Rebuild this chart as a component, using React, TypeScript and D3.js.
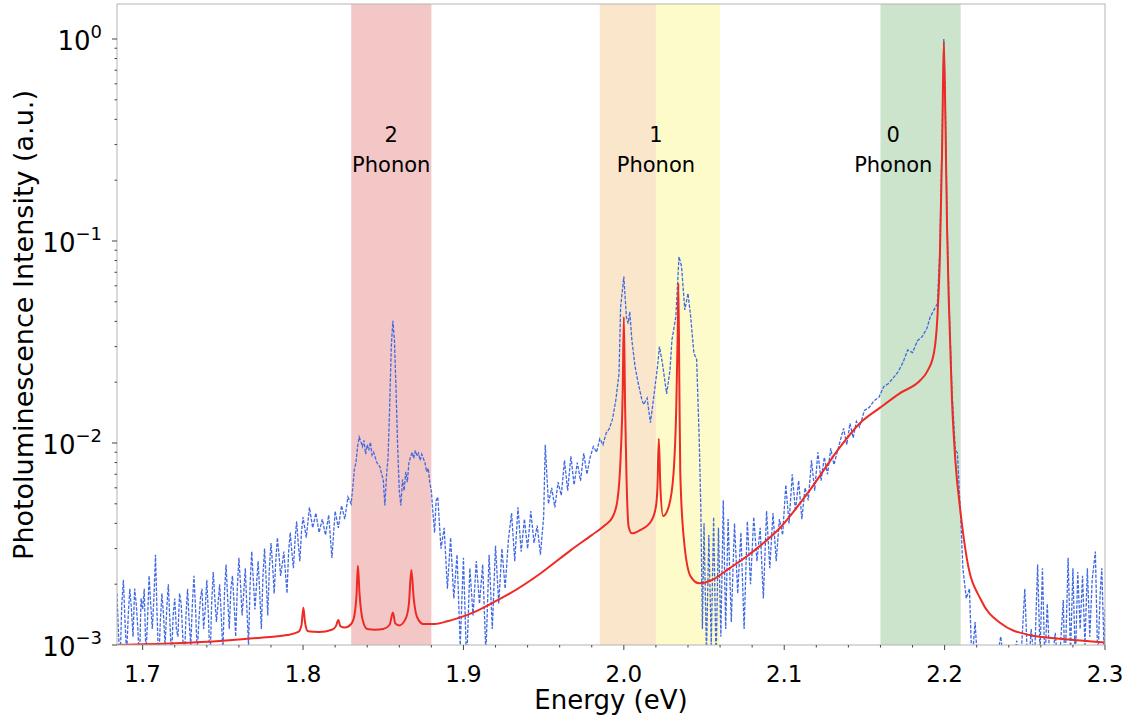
import React from "react";
import * as d3 from "d3";

// fitted model (red line): [energy eV, intensity]
const fitCurve: [number, number][] = [
  [1.684, 1.0e-3], [1.72, 1.02e-3], [1.75, 1.05e-3], [1.775, 1.09e-3], [1.79, 1.12e-3],
  [1.797, 1.16e-3], [1.799, 1.25e-3], [1.8002, 1.53e-3], [1.8012, 1.3e-3], [1.803, 1.17e-3],
  [1.81, 1.16e-3], [1.818, 1.19e-3], [1.8205, 1.24e-3], [1.822, 1.33e-3], [1.8232, 1.24e-3],
  [1.826, 1.22e-3], [1.83, 1.27e-3], [1.832, 1.4e-3], [1.8333, 1.75e-3], [1.8342, 2.47e-3],
  [1.8352, 1.8e-3], [1.837, 1.35e-3], [1.84, 1.2e-3], [1.845, 1.19e-3], [1.85, 1.2e-3],
  [1.854, 1.26e-3], [1.856, 1.45e-3], [1.8575, 1.28e-3], [1.86, 1.25e-3], [1.864, 1.35e-3],
  [1.866, 1.6e-3], [1.8675, 2.35e-3], [1.869, 1.7e-3], [1.871, 1.38e-3], [1.875, 1.27e-3],
  [1.882, 1.27e-3], [1.89, 1.31e-3], [1.898, 1.37e-3], [1.907, 1.46e-3], [1.917, 1.6e-3],
  [1.929, 1.8e-3], [1.948, 2.26e-3], [1.967, 2.95e-3], [1.98, 3.5e-3], [1.988, 3.9e-3],
  [1.993, 4.3e-3], [1.996, 5.2e-3], [1.998, 8.5e-3], [1.9993, 0.018], [2.0, 0.042],
  [2.0008, 0.015], [2.0016, 7.1e-3], [2.003, 3.85e-3], [2.005, 3.57e-3], [2.01, 3.7e-3],
  [2.017, 4.1e-3], [2.02, 4.84e-3], [2.021, 6.2e-3], [2.0218, 0.0105], [2.0228, 6e-3],
  [2.0245, 4.35e-3], [2.028, 4.84e-3], [2.031, 7.1e-3], [2.0327, 0.0151], [2.0336, 0.035],
  [2.034, 0.0617], [2.0346, 0.02], [2.0352, 7.1e-3], [2.0375, 3.3e-3], [2.0417, 2.18e-3],
  [2.047, 2.02e-3], [2.054, 2.08e-3], [2.066, 2.4e-3], [2.079, 2.84e-3], [2.098, 3.85e-3],
  [2.116, 5.85e-3], [2.135, 9.6e-3], [2.147, 0.0125], [2.16, 0.015], [2.172, 0.0176],
  [2.185, 0.0205], [2.189, 0.0225], [2.1933, 0.0278], [2.1954, 0.0406], [2.197, 0.08],
  [2.1985, 0.3], [2.1995, 0.97], [2.2005, 0.4], [2.2015, 0.12], [2.2026, 0.051],
  [2.2046, 0.0163], [2.2067, 8.2e-3], [2.21, 4.49e-3], [2.214, 2.64e-3], [2.2227, 1.67e-3],
  [2.235, 1.28e-3], [2.253, 1.12e-3], [2.274, 1.07e-3], [2.3, 1.03e-3],
];

// measured PL spectrum (blue dashed): [energy eV, intensity]
const measured: [number, number][] = [
  [1.684, 1.8e-3], [1.685, 1.1e-3], [1.686, 8.5e-4], [1.687, 1.6e-3], [1.688, 2.1e-3],
  [1.689, 1.3e-3], [1.69, 9e-4], [1.691, 1.4e-3], [1.692, 1.9e-3], [1.693, 1.5e-3],
  [1.694, 1.1e-3], [1.695, 1.9e-3], [1.696, 1.6e-3], [1.697, 1.2e-3], [1.698, 8e-4],
  [1.699, 1.7e-3], [1.7, 1.5e-3], [1.701, 1.9e-3], [1.702, 9e-4], [1.703, 1.3e-3],
  [1.704, 2.2e-3], [1.705, 1.6e-3], [1.706, 1.2e-3], [1.707, 1.7e-3], [1.708, 2.8e-3],
  [1.709, 1.4e-3], [1.71, 8e-4], [1.711, 1.3e-3], [1.712, 1.8e-3], [1.713, 1.4e-3],
  [1.714, 1.0e-3], [1.715, 1.5e-3], [1.716, 2.0e-3], [1.717, 1.3e-3], [1.718, 8.5e-4],
  [1.719, 1.4e-3], [1.72, 1.7e-3], [1.721, 1.2e-3], [1.722, 1.1e-3], [1.723, 1.8e-3],
  [1.724, 1.6e-3], [1.725, 1.1e-3], [1.726, 8e-4], [1.727, 1.4e-3], [1.728, 1.9e-3],
  [1.729, 1.3e-3], [1.73, 1.0e-3], [1.731, 1.6e-3], [1.732, 2.2e-3], [1.733, 1.5e-3],
  [1.734, 9e-4], [1.735, 1.3e-3], [1.736, 1.7e-3], [1.737, 1.9e-3], [1.738, 1.2e-3],
  [1.739, 1.5e-3], [1.74, 2.1e-3], [1.741, 1.4e-3], [1.742, 8e-4], [1.743, 1.6e-3],
  [1.744, 2.3e-3], [1.745, 1.7e-3], [1.746, 1.3e-3], [1.747, 1.6e-3], [1.748, 2.0e-3],
  [1.749, 1.4e-3], [1.75, 9e-4], [1.751, 1.8e-3], [1.752, 2.5e-3], [1.753, 1.7e-3],
  [1.754, 1.2e-3], [1.755, 1.9e-3], [1.756, 2.2e-3], [1.757, 1.6e-3], [1.758, 1.1e-3],
  [1.759, 1.9e-3], [1.76, 2.7e-3], [1.761, 2.0e-3], [1.762, 1.4e-3], [1.763, 1.8e-3],
  [1.764, 2.4e-3], [1.765, 1.5e-3], [1.766, 1.0e-3], [1.767, 2.0e-3], [1.768, 2.9e-3],
  [1.769, 2.1e-3], [1.77, 1.5e-3], [1.771, 2.0e-3], [1.772, 2.6e-3], [1.773, 1.8e-3],
  [1.774, 1.2e-3], [1.775, 2.2e-3], [1.776, 3.0e-3], [1.777, 2.1e-3], [1.778, 1.4e-3],
  [1.779, 2.4e-3], [1.78, 3.2e-3], [1.781, 2.5e-3], [1.782, 1.8e-3], [1.783, 2.6e-3],
  [1.784, 3.4e-3], [1.785, 2.8e-3], [1.786, 2.2e-3], [1.787, 2.5e-3], [1.788, 2.9e-3],
  [1.789, 2.3e-3], [1.79, 1.8e-3], [1.791, 2.9e-3], [1.792, 3.6e-3], [1.793, 2.9e-3],
  [1.794, 2.4e-3], [1.795, 3.3e-3], [1.796, 4.1e-3], [1.797, 3.2e-3], [1.798, 2.6e-3],
  [1.799, 3.6e-3], [1.8, 4.3e-3], [1.802, 3.4e-3],
  [1.804, 4.8e-3], [1.806, 3.8e-3], [1.808, 4.5e-3], [1.81, 3.6e-3], [1.812, 4.2e-3],
  [1.814, 3.5e-3], [1.816, 4.4e-3], [1.818, 2.7e-3], [1.82, 4.6e-3], [1.822, 3.8e-3],
  [1.824, 4.9e-3], [1.826, 4.2e-3], [1.828, 5.4e-3], [1.83, 5.0e-3],
  [1.831, 6.0e-3], [1.832, 7.4e-3], [1.833, 8.0e-3], [1.834, 9.6e-3], [1.835, 0.0107],
  [1.836, 0.0102], [1.837, 0.0096], [1.838, 0.0103], [1.839, 0.0088], [1.84, 0.0098],
  [1.841, 0.0092], [1.842, 0.0101], [1.843, 0.0087], [1.844, 0.009], [1.846, 0.008],
  [1.848, 0.0076], [1.849, 0.007], [1.85, 0.0066], [1.851, 0.0049], [1.852, 0.0068],
  [1.853, 0.0085], [1.854, 0.015], [1.855, 0.03], [1.856, 0.0403], [1.857, 0.032],
  [1.858, 0.018], [1.859, 0.0095], [1.86, 0.0058], [1.861, 0.0049], [1.862, 0.0066],
  [1.863, 0.0058], [1.864, 0.0072], [1.865, 0.0064], [1.866, 0.008], [1.867, 0.0085],
  [1.868, 0.009], [1.869, 0.0084], [1.87, 0.0092], [1.871, 0.0086], [1.872, 0.0089],
  [1.873, 0.0082], [1.874, 0.0088], [1.876, 0.008], [1.877, 0.0072], [1.878, 0.0075],
  [1.879, 0.0064], [1.88, 0.0058], [1.881, 0.0045], [1.882, 0.0036], [1.883, 0.0052],
  [1.884, 0.0054], [1.886, 0.003], [1.888, 0.0038], [1.89, 0.0019], [1.892, 0.0034],
  [1.894, 0.0017], [1.896, 0.0028], [1.898, 0.001], [1.9, 0.0027], [1.902, 0.0008],
  [1.904, 0.0024], [1.906, 0.0014], [1.908, 0.0026], [1.91, 0.0016], [1.912, 0.0025],
  [1.914, 0.0009], [1.916, 0.0028], [1.918, 0.0012], [1.92, 0.0031], [1.922, 0.0016],
  [1.924, 0.003], [1.926, 0.0019], [1.928, 0.0033], [1.93, 0.0045], [1.932, 0.0026],
  [1.934, 0.0048], [1.936, 0.0029], [1.938, 0.0042], [1.94, 0.003], [1.942, 0.0046],
  [1.944, 0.0032], [1.946, 0.0039], [1.948, 0.0028], [1.95, 0.0043], [1.951, 0.0098],
  [1.953, 0.005], [1.955, 0.006], [1.957, 0.0048], [1.959, 0.0064], [1.961, 0.0055],
  [1.963, 0.0082], [1.965, 0.0058], [1.967, 0.0086], [1.969, 0.0062], [1.971, 0.008],
  [1.973, 0.0065], [1.975, 0.0089], [1.977, 0.007], [1.979, 0.0085], [1.981, 0.0096],
  [1.983, 0.009], [1.985, 0.0105], [1.987, 0.0098], [1.989, 0.0112], [1.991, 0.0118],
  [1.993, 0.0132], [1.995, 0.0163], [1.997, 0.022], [1.998, 0.047], [2.0, 0.0666],
  [2.0016, 0.042], [2.0027, 0.039], [2.0037, 0.0446], [2.005, 0.0324], [2.007, 0.0239],
  [2.009, 0.0197], [2.0113, 0.0163], [2.0124, 0.0155], [2.0145, 0.0167], [2.0166, 0.0126],
  [2.0187, 0.017], [2.021, 0.0239], [2.0222, 0.03], [2.024, 0.025], [2.0267, 0.0175],
  [2.0288, 0.023], [2.03, 0.0324], [2.0324, 0.042], [2.0344, 0.0836], [2.036, 0.0747],
  [2.038, 0.0456], [2.04, 0.055], [2.0417, 0.042], [2.0437, 0.0278], [2.0454, 0.0259],
  [2.047, 0.0104], [2.048, 0.0048], [2.049, 0.0012], [2.05, 0.004], [2.0515, 0.0009],
  [2.053, 0.0035], [2.0545, 0.001], [2.056, 0.0043], [2.0575, 0.0008], [2.059, 0.0038],
  [2.0605, 0.0011], [2.062, 0.0052], [2.0635, 0.0012], [2.065, 0.0042], [2.067, 0.0013],
  [2.069, 0.004], [2.071, 0.0018], [2.073, 0.0036], [2.075, 0.0012], [2.077, 0.0041],
  [2.079, 0.002], [2.081, 0.0043], [2.083, 0.0026], [2.085, 0.0038], [2.087, 0.0017],
  [2.089, 0.0046], [2.091, 0.0024], [2.093, 0.0045], [2.095, 0.0026], [2.097, 0.0042],
  [2.099, 0.0035], [2.101, 0.0062], [2.103, 0.004], [2.105, 0.007], [2.107, 0.0046],
  [2.109, 0.0065], [2.111, 0.0042], [2.113, 0.006], [2.115, 0.0052], [2.117, 0.0082],
  [2.119, 0.0058], [2.121, 0.009], [2.123, 0.0065], [2.125, 0.0085], [2.127, 0.007],
  [2.129, 0.0094], [2.131, 0.0078], [2.133, 0.009], [2.135, 0.0103], [2.137, 0.0118],
  [2.139, 0.0098], [2.141, 0.0125], [2.143, 0.0106], [2.145, 0.0128], [2.147, 0.012],
  [2.15, 0.0145], [2.153, 0.015], [2.156, 0.0162], [2.159, 0.0168], [2.162, 0.019],
  [2.165, 0.0197], [2.168, 0.021], [2.171, 0.0225], [2.174, 0.025], [2.177, 0.0289],
  [2.18, 0.028], [2.183, 0.032], [2.186, 0.0336], [2.189, 0.037], [2.191, 0.042],
  [2.193, 0.045], [2.1955, 0.049], [2.197, 0.09], [2.1985, 0.35], [2.1995, 1.0],
  [2.2005, 0.45], [2.2015, 0.13], [2.2026, 0.055], [2.2046, 0.018], [2.2067, 0.0093],
  [2.208, 0.0089], [2.21, 0.0043], [2.2114, 0.0024], [2.2135, 0.0017], [2.2155, 0.0019],
  [2.217, 0.0008], [2.219, 0.0013], [2.221, 0.0007], [2.224, 0.0009], [2.228, 0.0007],
  [2.232, 0.0008], [2.235, 0.0011], [2.238, 0.0007], [2.242, 0.0008], [2.245, 0.00105],
  [2.247, 0.0007], [2.25, 0.0019], [2.252, 0.0007], [2.254, 0.0012], [2.256, 0.0008],
  [2.258, 0.0025], [2.2595, 0.0009], [2.261, 0.0024], [2.2625, 0.0008], [2.264, 0.0016],
  [2.266, 0.0007], [2.269, 0.00115], [2.271, 0.0007], [2.274, 0.00167], [2.275, 0.0007],
  [2.277, 0.0027], [2.2785, 0.0009], [2.28, 0.0024], [2.2815, 0.0008], [2.283, 0.0023],
  [2.2845, 0.0012], [2.286, 0.0022], [2.2875, 0.001], [2.289, 0.0024], [2.2905, 0.0011],
  [2.292, 0.0021], [2.294, 0.0029], [2.2955, 0.0008], [2.297, 0.0018], [2.298, 0.0024],
  [2.2995, 0.0009], [2.3, 0.0015],
];

// shaded phonon bands
const bands = [
  { from: 1.83, to: 1.88, color: "#f4c7c7" },
  { from: 1.985, to: 2.02, color: "#f9e6cb" },
  { from: 2.02, to: 2.06, color: "#fefbcb" },
  { from: 2.16, to: 2.21, color: "#cce4cc" },
];

const bandLabels = [
  { energy: 1.855, top: "2", bottom: "Phonon" },
  { energy: 2.02, top: "1", bottom: "Phonon" },
  { energy: 2.168, top: "0", bottom: "Phonon" },
];

const xTicks = [1.7, 1.8, 1.9, 2.0, 2.1, 2.2, 2.3];
const yTicks = [1e-3, 1e-2, 1e-1, 1];
const yTickExp = ["\u22123", "\u22122", "\u22121", "0"];

const W = 1140;
const H = 719;
const plot = { left: 117, top: 4, right: 1105, bottom: 645 };
const FONT = "'DejaVu Sans', sans-serif";

export default function App() {
  const x = d3.scaleLinear().domain([1.684, 2.3]).range([plot.left, plot.right]);
  const y = d3.scaleLog().domain([1e-3, 1.49]).range([plot.bottom, plot.top]);

  const line = d3
    .line<[number, number]>()
    .x((d) => x(d[0]))
    .y((d) => y(d[1]));
  const smooth = d3
    .line<[number, number]>()
    .x((d) => x(d[0]))
    .y((d) => y(d[1]))
    .curve(d3.curveMonotoneX);

  const xMinor = d3
    .range(1.7, 2.301, 0.02)
    .filter((v) => Math.abs(Math.round(v * 10) - v * 10) > 1e-6);
  const yMinor: number[] = [];
  [1e-3, 1e-2, 1e-1, 1].forEach((p) => {
    for (let k = 2; k <= 9; k++) if (p * k <= 1.49) yMinor.push(p * k);
  });

  return (
    <svg width={W} height={H} style={{ position: "absolute", left: 0, top: 0, background: "#fff" }} fontFamily={FONT}>
      <defs>
        <clipPath id="plotClip">
          <rect x={plot.left} y={plot.top} width={plot.right - plot.left} height={plot.bottom - plot.top} />
        </clipPath>
      </defs>

      {bands.map((b, i) => (
        <rect key={i} x={x(b.from)} y={plot.top} width={x(b.to) - x(b.from)} height={plot.bottom - plot.top} fill={b.color} />
      ))}

      {bandLabels.map((l, i) => (
        <g key={i} fontSize={21} textAnchor="middle" fill="#000">
          <text x={x(l.energy)} y={142}>{l.top}</text>
          <text x={x(l.energy)} y={172}>{l.bottom}</text>
        </g>
      ))}

      <g clipPath="url(#plotClip)" fill="none">
        <path d={line(measured) || ""} stroke="#4169e1" strokeWidth={1.3} strokeDasharray="3.5 1.5" />
        <path d={smooth(fitCurve) || ""} stroke="#ee2a24" strokeWidth={2} strokeLinejoin="round" />
      </g>

      <rect x={plot.left} y={plot.top} width={plot.right - plot.left} height={plot.bottom - plot.top} fill="none" stroke="#b3b3b3" strokeWidth={1} />

      {xTicks.map((t) => (
        <g key={t}>
          <line x1={x(t)} x2={x(t)} y1={plot.bottom} y2={plot.bottom + 5} stroke="#444" />
          <text x={x(t)} y={682} fontSize={23} textAnchor="middle">{t.toFixed(1)}</text>
        </g>
      ))}
      {xMinor.map((t) => (
        <line key={t} x1={x(t)} x2={x(t)} y1={plot.bottom} y2={plot.bottom + 2.5} stroke="#444" />
      ))}

      {yTicks.map((t, i) => (
        <g key={t}>
          <line x1={plot.left - 5} x2={plot.left} y1={y(t)} y2={y(t)} stroke="#444" />
          <text x={plot.left - 15} y={y(t) + 11} fontSize={26} textAnchor="end">
            10<tspan dy={-12} fontSize={18}>{yTickExp[i]}</tspan>
          </text>
        </g>
      ))}
      {yMinor.map((t) => (
        <line key={t} x1={plot.left - 2.5} x2={plot.left} y1={y(t)} y2={y(t)} stroke="#444" />
      ))}

      <text x={611} y={709} fontSize={26} textAnchor="middle">Energy (eV)</text>
      <text transform="translate(33, 325) rotate(-90)" fontSize={27} textAnchor="middle">
        Photoluminescence Intensity (a.u.)
      </text>
    </svg>
  );
}
